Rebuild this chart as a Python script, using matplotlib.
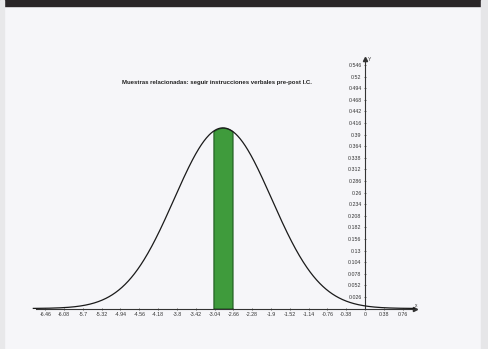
import numpy as np
import matplotlib.pyplot as plt

plt.rcParams['font.family'] = ['Liberation Sans Narrow', 'DejaVu Sans Condensed', 'Liberation Sans', 'DejaVu Sans']

# distribution shown on the sheet (paired samples, pre-post)
mean = -2.87
sd = 0.985
ic_low = -3.07
ic_high = -2.67

x_ticks = [-6.46, -6.08, -5.7, -5.32, -4.94, -4.56, -4.18, -3.8, -3.42, -3.04,
           -2.66, -2.28, -1.9, -1.52, -1.14, -0.76, -0.38, 0, 0.38, 0.76]
x_tick_labels = ['-6.46', '-6.08', '-5.7', '-5.32', '-4.94', '-4.56', '-4.18', '-3.8', '-3.42', '-3.04',
                 '-2.66', '-2.28', '-1.9', '-1.52', '-1.14', '-0.76', '-0.38', '0', '0.38', '0.76']
y_ticks = [0.026, 0.052, 0.078, 0.104, 0.13, 0.156, 0.182, 0.208, 0.234, 0.26, 0.286,
           0.312, 0.338, 0.364, 0.39, 0.416, 0.442, 0.468, 0.494, 0.52, 0.546]
y_tick_labels = ['0.026', '0.052', '0.078', '0.104', '0.13', '0.156', '0.182', '0.208', '0.234', '0.26', '0.286',
                 '0.312', '0.338', '0.364', '0.39', '0.416', '0.442', '0.468', '0.494', '0.52', '0.546']
title = 'Muestras relacionadas: seguir instrucciones verbales pre-post I.C.'

xs = np.linspace(-6.7, 1.0, 600)
dens = np.exp(-0.5 * ((xs - mean) / sd) ** 2) / (sd * np.sqrt(2 * np.pi))

W, H = 488, 349
x0_px, px_x = 365, 49.5   # pixel of x=0, pixels per unit
y0_px, px_y = 308.5, 446

fig = plt.figure(figsize=(W / 100, H / 100), dpi=100, facecolor='#f6f6f9')
ax = fig.add_axes([0, 0, 1, 1])
ax.set_facecolor('none')
ax.set_xlim(-x0_px / px_x, (W - x0_px) / px_x)
ax.set_ylim(-(H - y0_px) / px_y, y0_px / px_y)

# scan borders
fig.patches.append(plt.Rectangle((0, 1 - 6 / H), 1, 6 / H, transform=fig.transFigure,
                                 color='#2a2628', zorder=5))
fig.patches.append(plt.Rectangle((481 / W, 0), 7 / W, 1, transform=fig.transFigure,
                                 color='#e6e6e8', zorder=5))
fig.patches.append(plt.Rectangle((0, 0), 4 / W, 1, transform=fig.transFigure,
                                 color='#e8e8ea', zorder=5))

# confidence band
band = (xs >= ic_low) & (xs <= ic_high)
ax.fill_between(xs[band], 0, dens[band], color='#3f9b3c', edgecolor='#1f5a20', linewidth=0.8, zorder=2)
ax.plot(xs, dens, color='#1a1a1a', linewidth=0.9, zorder=3)

for side in ['top', 'right']:
    ax.spines[side].set_visible(False)
ax.spines['bottom'].set_position(('data', 0))
ax.spines['left'].set_position(('data', 0))
ax.spines['bottom'].set_bounds(-6.65, 1.0)
ax.spines['left'].set_bounds(0, 0.56)
for side in ['bottom', 'left']:
    ax.spines[side].set_linewidth(0.8)
    ax.spines[side].set_color('#333333')

ax.set_xticks(x_ticks)
ax.set_xticklabels(x_tick_labels)
ax.set_yticks(y_ticks)
ax.set_yticklabels(y_tick_labels)
ax.tick_params(axis='both', labelsize=3.8, colors='#333333', length=2, width=0.5,
               direction='inout', pad=1.5)

ax.plot([1.0], [0], marker='>', color='#333333', markersize=3, clip_on=False)
ax.plot([0], [0.56], marker='^', color='#333333', markersize=3, clip_on=False)
ax.text(1.0, 0.004, 'x', fontsize=3.5, color='#333333')
ax.text(0.05, 0.556, 'Y', fontsize=3.5, color='#333333')

fig.text(217 / W, 1 - 82.5 / H, title, fontsize=4.35, fontweight='bold',
         ha='center', va='center', color='#222222')

fig.savefig('out.png', dpi=100, facecolor=fig.get_facecolor())
